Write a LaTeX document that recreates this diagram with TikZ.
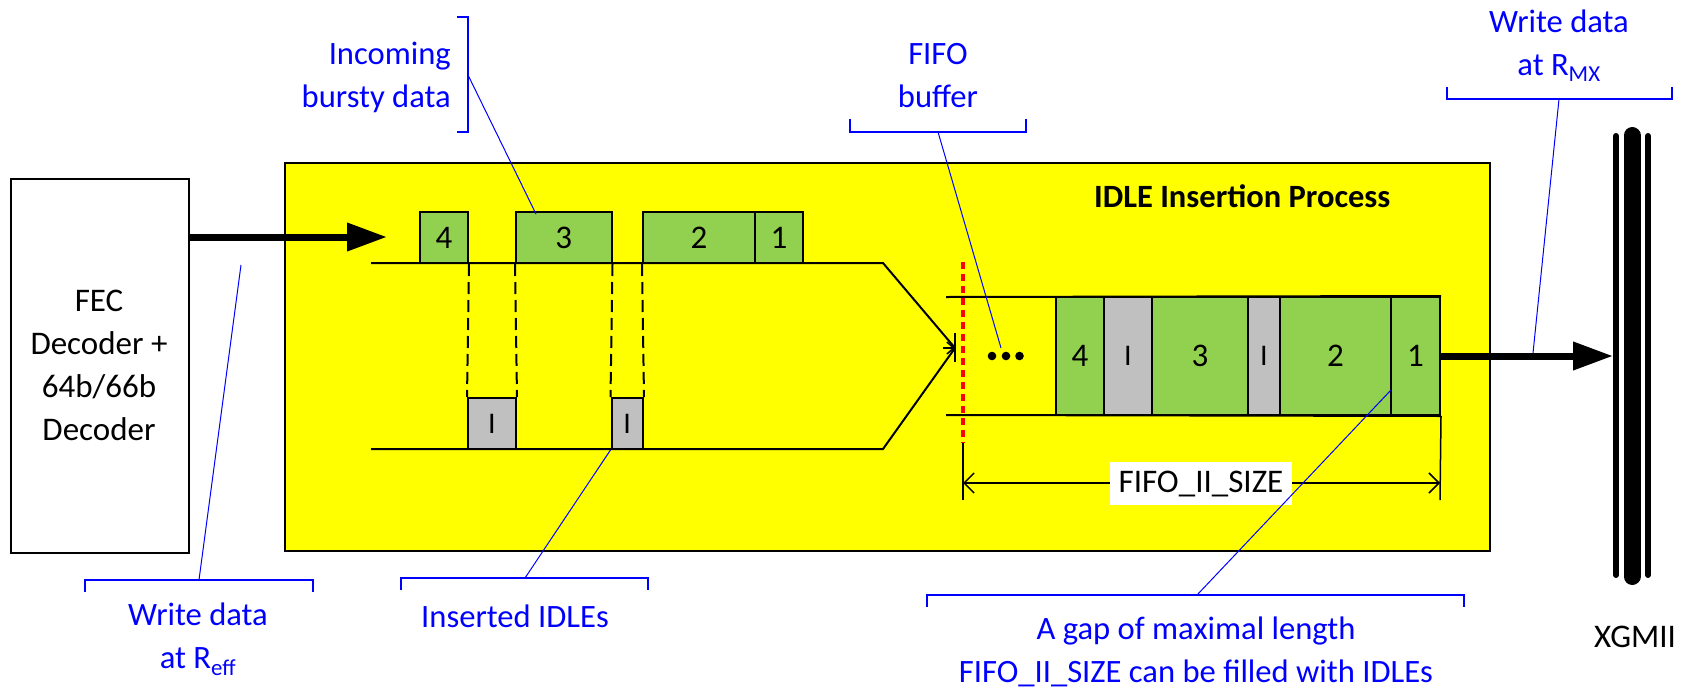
\documentclass[tikz,border=0pt]{standalone}
\usepackage{fontspec}
\setmainfont{Carlito}
\usetikzlibrary{arrows.meta}
\definecolor{yfill}{HTML}{FFFF00}
\definecolor{gfill}{HTML}{92D050}
\definecolor{ifill}{HTML}{C0C0C0}
\definecolor{lblue}{HTML}{0000FF}
\begin{document}
\begin{tikzpicture}[x=1pt,y=-1pt,
  blk/.style={line width=2pt,draw=black},
  gbox/.style={blk,fill=gfill,inner sep=0pt,font=\fontsize{33}{40}\selectfont},
  ibox/.style={blk,fill=ifill,inner sep=0pt,font=\fontsize{30}{36}\selectfont},
  btxt/.style={text=lblue,font=\fontsize{32.6}{43}\selectfont,inner sep=0pt},
  brk/.style={draw=lblue,line width=1.5pt},
  lead/.style={draw=lblue,line width=1pt},
  fat/.style={line width=7pt,-{Triangle[length=40pt,width=27pt]}},
  dim/.style={line width=1.5pt},
  dimtip/.style={{Straight Barb[length=10pt,width=20pt]}-{Straight Barb[length=10pt,width=20pt]}},
]
\useasboundingbox (0,0) rectangle (1694,691);

% main boxes
\node[blk,fill=white,minimum width=177.5pt,minimum height=374pt,inner sep=0pt,anchor=north west] (fec) at (10,178) {};
\node[inner sep=0pt,align=center,font=\fontsize{33}{43}\selectfont,anchor=base] (fect) at (99,440) {FEC\\Decoder +\\64b/66b\\Decoder};
\node[blk,fill=yfill,minimum width=1205pt,minimum height=388pt,inner sep=0pt,anchor=north west] (yel) at (284,162) {};
\node[inner sep=0pt,anchor=base west,font=\fontsize{32.5}{40}\selectfont\bfseries] (title) at (1094,207) {IDLE Insertion Process};

% top row of bursty data
\node[gbox,minimum width=48pt,minimum height=51pt] (t4) at (444,237.5) {4};
\node[gbox,minimum width=95.5pt,minimum height=51pt] (t3) at (563.75,237.5) {3};
\node[gbox,minimum width=112pt,minimum height=51pt] (t2) at (699,237.5) {2};
\node[gbox,minimum width=48pt,minimum height=51pt] (t1) at (779,237.5) {1};
% inserted idles
\node[ibox,minimum width=48pt,minimum height=51pt] (i1) at (492,423.5) {I};
\node[ibox,minimum width=31.5pt,minimum height=51pt] (i2) at (627.25,423.5) {I};

% FIFO content
\node[gbox,minimum width=48pt,minimum height=118pt] (f4) at (1080,356) {4};
\node[ibox,minimum width=48pt,minimum height=118pt] (fi1) at (1128,356) {I};
\node[gbox,minimum width=96pt,minimum height=118pt] (f3) at (1200,356) {3};
\node[ibox,minimum width=32pt,minimum height=118pt] (fi2) at (1264,356) {I};
\node[gbox,minimum width=111pt,minimum height=118pt] (f2) at (1335.5,356) {2};
\node[gbox,minimum width=49pt,minimum height=118pt] (f1) at (1415.5,356) {1};

% flow lines
\coordinate (tip) at (955,348);
\coordinate (ts) at (371,263);
\coordinate (tb) at (883,263);
\coordinate (bs) at (371,449);
\coordinate (bb) at (883,449);
\draw[line width=2pt] (ts) -- (tb) -- (tip);
\draw[line width=2pt] (bs) -- (bb) -- (tip);
\draw[line width=2pt] (955,333) -- (955,362);
\draw[line width=1.5pt,-{Straight Barb[length=7pt,width=12pt]}] (943,348) -- (tip);

% dashed guides
\draw[line width=2pt,dash pattern=on 12pt off 6pt] (t4.south east) -- (i1.north west);
\draw[line width=2pt,dash pattern=on 12pt off 6pt] (t3.south west) -- (i1.north east);
\draw[line width=2pt,dash pattern=on 12pt off 6pt] (t3.south east) -- (i2.north west);
\draw[line width=2pt,dash pattern=on 12pt off 6pt] (t2.south west) -- (i2.north east);

% FIFO rails
\coordinate (fu) at (946,297);
\coordinate (fl) at (946,415);
\draw[line width=2pt] (fu) -- (f1.north east);
\draw[line width=2pt] (fl) -- (f1.south east);

% red boundary and dimension
\coordinate (rtop) at (963,262);
\coordinate (rbot) at (963,443);
\coordinate (dl) at (963,500);
\coordinate (dr) at (1440,500);
\draw[red,line width=3.5pt,dash pattern=on 7pt off 5pt] (rtop) -- (rbot);
\draw[dim] (rbot) -- (dl);
\draw[dim] (f1.south east) -- (dr);
\coordinate (da) at (963,483);
\coordinate (db) at (1440,483);
\draw[dim,dimtip] (da) -- (db);
\node[fill=white,inner xsep=9pt,inner ysep=0pt,minimum height=43pt,font=\fontsize{33}{40}\selectfont] (dlab) at (1201,483.5) {FIFO\_II\_SIZE};

% dots
\fill (992,356) circle (4.3pt);
\fill (1006,356) circle (4.3pt);
\fill (1019.5,356) circle (4.3pt);

% thick arrows
\coordinate (inTip) at (387,237);
\draw[fat] (fec.east |- inTip) -- (inTip);
\coordinate (outTip) at (1613,356);
\draw[fat] (f1.east) -- (outTip);

% XGMII bus
\draw[line width=17pt,line cap=round] (1632,135.5) -- (1632,576.5);
\draw[line width=6pt,line cap=round] (1616,136) -- (1616,575);
\draw[line width=6pt,line cap=round] (1648,136) -- (1648,575);
\node[inner sep=0pt,anchor=base,font=\fontsize{33}{40}\selectfont] (xg) at (1635,647) {XGMII};

% annotation: incoming bursty data
\node[btxt,align=right,anchor=base east] (lin) at (451,107) {Incoming\\bursty data};
\draw[brk] (457,17) -- (468,17) -- (468,132) -- (457,132);
\coordinate (linA) at (468,75);
\coordinate (linB) at (536,214);
\draw[lead] (linA) -- (linB);

% annotation: FIFO buffer
\node[btxt,align=center,anchor=base] (lff) at (938,107) {FIFO\\buffer};
\draw[brk] (850,119) -- (850,132) -- (1026,132) -- (1026,119);
\coordinate (lffA) at (938,132);
\coordinate (lffB) at (1001,348);
\draw[lead] (lffA) -- (lffB);

% annotation: write data at RMX
\node[btxt,align=center,anchor=base] (lmx) at (1559,75) {Write data\\at R\textsubscript{MX}};
\draw[brk] (1447,87) -- (1447,99) -- (1672,99) -- (1672,87);
\coordinate (lmxA) at (1559,99);
\coordinate (lmxB) at (1533,353);
\draw[lead] (lmxA) -- (lmxB);

% annotation: write data at Reff
\node[btxt,align=center,anchor=base] (lef) at (198,668) {Write data\\at R\textsubscript{eff}};
\draw[brk] (85,592) -- (85,580) -- (313,580) -- (313,592);
\coordinate (lefA) at (199,580);
\coordinate (lefB) at (241,265);
\draw[lead] (lefA) -- (lefB);

% annotation: inserted IDLEs
\node[btxt,anchor=base] (lid) at (515,627) {Inserted IDLEs};
\draw[brk] (401,590) -- (401,578) -- (648,578) -- (648,590);
\coordinate (lidA) at (525,578);
\draw[lead] (lidA) -- (i2.south west);

% annotation: gap
\node[btxt,align=center,anchor=base] (lgap) at (1196,682) {A gap of maximal length\\FIFO\_II\_SIZE can be filled with IDLEs};
\draw[brk] (927,607) -- (927,595) -- (1464,595) -- (1464,607);
\coordinate (lgapA) at (1197,595);
\coordinate (lgapB) at (1391,390);
\draw[lead] (lgapA) -- (lgapB);
\end{tikzpicture}
\end{document}
